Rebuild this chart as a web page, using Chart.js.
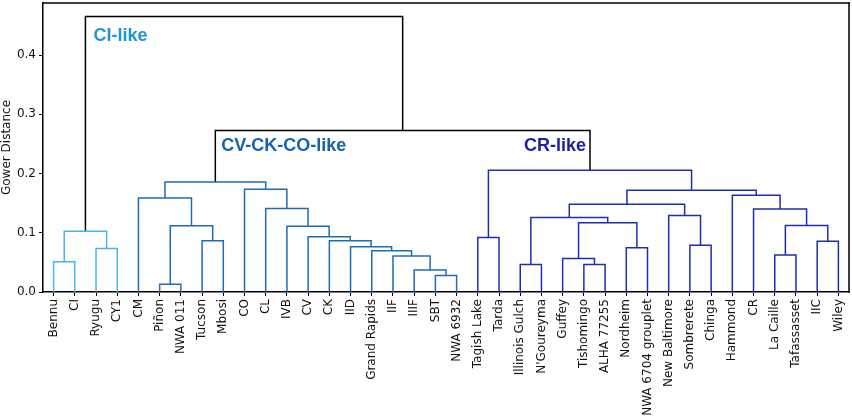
<!DOCTYPE html>
<html>
<head>
<meta charset="utf-8">
<script src="https://cdn.jsdelivr.net/npm/chart.js@4.4.1/dist/chart.umd.min.js"></script>
<style>
  html, body { margin: 0; padding: 0; background: #fff; overflow: hidden; }
  #wrap { width: 852px; height: 417px; }
  canvas { display: block; }
</style>
</head>
<body>
<div id="wrap"><canvas id="dendro"></canvas></div>
<script>
// leaf order along the x axis
const leaves = ["Bennu", "CI", "Ryugu", "CY1", "CM", "Piñon", "NWA 011", "Tucson", "Mbosi",
    "CO", "CL", "IVB", "CV", "CK", "IID", "Grand Rapids", "IIF", "IIIF", "SBT", "NWA 6932",
    "Tagish Lake", "Tarda", "Illinois Gulch", "N'Goureyma", "Guffey", "Tishomingo", "ALHA 77255",
    "Nordheim", "NWA 6704 grouplet", "New Baltimore", "Sombrerete", "Chinga", "Hammond", "CR",
    "La Caille", "Tafassasset", "IIC", "Wiley"];

// merges: [id, left child, right child, Gower distance]
const ciMerges = [
    ["ci1", "Bennu", "CI", 0.051],
    ["ci2", "Ryugu", "CY1", 0.0735],
    ["ciRoot", "ci1", "ci2", 0.1027]
];

const cvMerges = [
    ["cv1", "Piñon", "NWA 011", 0.013],
    ["cv2", "Tucson", "Mbosi", 0.0864],
    ["cv3", "cv1", "cv2", 0.1117],
    ["cv4", "CM", "cv3", 0.1588],
    ["co1", "SBT", "NWA 6932", 0.028],
    ["co2", "IIIF", "co1", 0.037],
    ["co3", "IIF", "co2", 0.0606],
    ["co4", "Grand Rapids", "co3", 0.0696],
    ["co5", "IID", "co4", 0.0763],
    ["co6", "CK", "co5", 0.0864],
    ["co7", "CV", "co6", 0.0932],
    ["co8", "IVB", "co7", 0.111],
    ["co9", "CL", "co8", 0.1408],
    ["co10", "CO", "co9", 0.1734],
    ["cvRoot", "cv4", "co10", 0.1857]
];

const crMerges = [
    ["cr1", "Tagish Lake", "Tarda", 0.092],
    ["cr2", "Illinois Gulch", "N'Goureyma", 0.0466],
    ["cr3", "Tishomingo", "ALHA 77255", 0.0466],
    ["cr4", "Guffey", "cr3", 0.0567],
    ["cr5", "Nordheim", "NWA 6704 grouplet", 0.0746],
    ["cr6", "cr4", "cr5", 0.117],
    ["cr7", "cr2", "cr6", 0.1257],
    ["cr8", "Sombrerete", "Chinga", 0.079],
    ["cr9", "New Baltimore", "cr8", 0.129],
    ["cr10", "cr7", "cr9", 0.148],
    ["cr11", "La Caille", "Tafassasset", 0.0623],
    ["cr12", "IIC", "Wiley", 0.0859],
    ["cr13", "cr11", "cr12", 0.1122],
    ["cr14", "CR", "cr13", 0.1403],
    ["cr15", "Hammond", "cr14", 0.1633],
    ["cr16", "cr10", "cr15", 0.1717],
    ["crRoot", "cr1", "cr16", 0.2054]
];

const topMerges = [
    ["mid", "cvRoot", "crRoot", 0.2727],
    ["root", "ciRoot", "mid", 0.465]
];

const yTicks = [0.0, 0.1, 0.2, 0.3, 0.4];
const groupNames = ["CI-like", "CV-CK-CO-like", "CR-like"];

// styles
const lineColors = { ci: "#45b8e8", cv: "#1f6cb4", cr: "#1e2eb4", top: "#000000" };
const textColors = ["#1a98d6", "#1562ad", "#1a22a3"];

// node positions: leaves sit at 5, 15, 25 ... like scipy
const nodes = {};
leaves.forEach((name, i) => { nodes[name] = { x: 5 + 10 * i, h: 0 }; });

function buildLinks(merges, color) {
    return merges.map(m => {
        const a = nodes[m[1]];
        const b = nodes[m[2]];
        nodes[m[0]] = { x: (a.x + b.x) / 2, h: m[3] };
        return {
            data: [
                { x: a.x, y: a.h },
                { x: a.x, y: m[3] },
                { x: b.x, y: m[3] },
                { x: b.x, y: b.h }
            ],
            showLine: true,
            borderColor: color,
            borderWidth: 1.5,
            pointRadius: 0,
            tension: 0,
            fill: false
        };
    });
}

const datasets = [
    ...buildLinks(ciMerges, lineColors.ci),
    ...buildLinks(cvMerges, lineColors.cv),
    ...buildLinks(crMerges, lineColors.cr),
    ...buildLinks(topMerges, lineColors.top)
];

// frame around the axes and the group names
const framePlugin = {
    id: "frame",
    afterDraw(chart) {
        const { ctx, chartArea, scales } = chart;
        const { left, top, right, bottom } = chartArea;
        const w = 1.5;
        ctx.save();
        ctx.fillStyle = "#000";
        ctx.fillRect(left - w / 2, top - w / 2, right - left + w, w);
        ctx.fillRect(right - w / 2, top - w / 2, w, bottom - top + w);

        ctx.font = "bold 18px 'Liberation Sans', Arial, sans-serif";
        ctx.textBaseline = "alphabetic";
        // CI-like
        ctx.fillStyle = textColors[0];
        ctx.textAlign = "left";
        ctx.fillText(groupNames[0], scales.x.getPixelForValue(nodes.ciRoot.x) + 8,
            scales.y.getPixelForValue(0.424));
        // CV-CK-CO-like
        ctx.fillStyle = textColors[1];
        ctx.fillText(groupNames[1], scales.x.getPixelForValue(nodes.cvRoot.x) + 6,
            scales.y.getPixelForValue(0.2375));
        // CR-like
        ctx.fillStyle = textColors[2];
        ctx.textAlign = "right";
        ctx.fillText(groupNames[2], scales.x.getPixelForValue(nodes.crRoot.x) - 4,
            scales.y.getPixelForValue(0.2375));
        ctx.restore();
    }
};

function noEdgePadding(scale) {
    scale.paddingTop = 0;
    scale.paddingBottom = 0;
    scale.paddingLeft = 0;
    scale.paddingRight = 0;
}

const ctx = document.getElementById("dendro").getContext("2d");
new Chart(ctx, {
    type: "scatter",
    data: { datasets: datasets },
    options: {
        responsive: true,
        maintainAspectRatio: false,
        animation: false,
        layout: { padding: { top: 3, right: 3, left: 0, bottom: 0 } },
        plugins: {
            legend: { display: false },
            tooltip: { enabled: false }
        },
        scales: {
            x: {
                type: "linear",
                min: 0,
                max: leaves.length * 10,
                afterBuildTicks: scale => {
                    scale.ticks = leaves.map((_, i) => ({ value: 5 + 10 * i }));
                },
                afterFit: scale => { scale.height = 125; noEdgePadding(scale); },
                ticks: {
                    autoSkip: false,
                    maxRotation: 90,
                    minRotation: 90,
                    padding: 3,
                    color: "#111",
                    font: { family: "'DejaVu Sans', sans-serif", size: 12 },
                    callback: value => leaves[Math.round((value - 5) / 10)]
                },
                grid: { drawOnChartArea: false, drawTicks: true, tickLength: 4, color: "#000" },
                border: { display: true, color: "#000", width: 1.5 }
            },
            y: {
                min: 0,
                max: 0.488,
                afterBuildTicks: scale => {
                    scale.ticks = yTicks.map(v => ({ value: v }));
                },
                afterFit: scale => { scale.width = 43; noEdgePadding(scale); },
                ticks: {
                    padding: 3,
                    color: "#111",
                    font: { family: "'DejaVu Sans', sans-serif", size: 12 },
                    callback: value => value.toFixed(1)
                },
                title: {
                    display: true,
                    text: "Gower Distance",
                    color: "#111",
                    padding: 0,
                    font: { family: "'DejaVu Sans', sans-serif", size: 12 }
                },
                grid: { drawOnChartArea: false, drawTicks: true, tickLength: 4, color: "#000" },
                border: { display: true, color: "#000", width: 1.5 }
            }
        }
    },
    plugins: [framePlugin]
});
</script>
</body>
</html>
